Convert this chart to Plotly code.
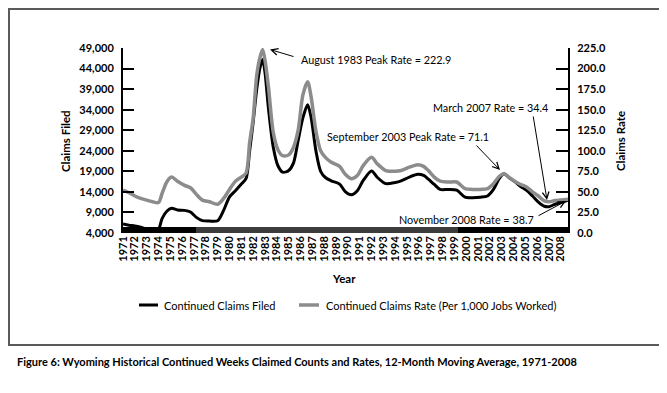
import plotly.graph_objects as go

# ---------------- data ----------------
years = [1971.0, 1971.5, 1972.0, 1972.5, 1973.0, 1973.5, 1974.0, 1974.3, 1974.7,
         1975.1, 1975.6, 1976.2, 1976.7, 1977.2, 1977.7, 1978.3, 1979.0, 1979.5,
         1980.0, 1980.5, 1981.0, 1981.4, 1981.7, 1982.0, 1982.3, 1982.6, 1982.8,
         1983.0, 1983.3, 1983.7, 1984.1, 1984.5, 1985.0, 1985.4, 1985.8, 1986.2,
         1986.6, 1986.9, 1987.3, 1987.7, 1988.1, 1988.6, 1989.3, 1989.8, 1990.3,
         1990.8, 1991.3, 1992.0, 1992.5, 1993.2, 1994.0, 1994.5, 1995.2, 1995.9,
         1996.4, 1996.8, 1997.3, 1997.8, 1998.5, 1999.2, 1999.9, 2000.5, 2001.2,
         2001.8, 2002.3, 2002.8, 2003.2, 2003.6, 2004.1, 2004.6, 2005.1, 2005.6,
         2006.1, 2006.6, 2007.0, 2007.5, 2008.0, 2008.6]

claims_filed = [6200, 5900, 5700, 5400, 5000, 5000, 5000, 7500, 9300,
                10000, 9600, 9500, 9100, 7800, 7000, 6900, 7000, 9500,
                12800, 14300, 15900, 17300, 24000, 31000, 39000, 44500, 46200,
                43000, 34000, 24800, 20300, 18800, 19200, 21000, 26500, 32000,
                35200, 32000, 24000, 19000, 17500, 16700, 15900, 14000, 13300,
                14300, 16800, 19100, 17500, 16000, 16300, 16700, 17600, 18300,
                18000, 17100, 15800, 14600, 14600, 14400, 12700, 12600, 12700,
                13000, 14600, 17300, 18400, 17500, 16500, 15300, 14400, 13000,
                11500, 10500, 10400, 11000, 11400, 12000]

claims_rate = [52, 49, 45, 42, 40, 38, 37, 48, 62,
               68, 63, 58, 55, 47, 40, 38, 35, 42,
               53, 63, 68, 73, 110, 140, 192, 215, 223,
               210, 176, 122, 101, 94, 95, 104, 125, 168,
               184, 165, 124, 100, 92, 86, 81, 71, 66,
               70, 82, 92, 84, 76, 75, 76, 80, 83,
               81, 76, 68, 63, 62, 62, 54, 53, 53,
               54, 60, 69, 72, 68, 63, 59, 56, 50,
               45, 39, 38, 39.5, 40, 41]

tick_years = list(range(1971, 2009))
claims_ticks = list(range(4000, 49001, 5000))
rate_ticks = [0, 25, 50, 75, 100, 125, 150, 175, 200, 225]

series_names = ["Continued Claims Filed", "Continued Claims Rate (Per 1,000 Jobs Worked)"]
caption = ("Figure 6: Wyoming Historical Continued Weeks Claimed Counts and Rates, "
           "12-Month Moving Average, 1971-2008")

# ---------------- layout helpers ----------------
W, H = 667, 393
L, R, T, B = 115, 107, 40, 168
PW, PH = W - L - R, H - T - B
X0, X1 = 1971, 2008.6
C0, C1 = 4000, 49000


def px(x):
    return (x - L) / PW


def py(y):
    return (T + PH - y) / PH


def yr(x):
    return X0 + (x - L) / PW * (X1 - X0)


def cl(y):
    return C0 + (T + PH - y) / PH * (C1 - C0)


FONT = "Lato"
BLACK = "#000000"
GREY = "#8c8c8c"


def f(size=12, bold=False):
    return dict(family=FONT, size=size, color=BLACK,
                weight="bold" if bold else "normal")


fig = go.Figure()
fig.add_trace(go.Scatter(x=years, y=claims_filed, mode="lines", name=series_names[0],
                         line=dict(color=BLACK, width=3, shape="spline", smoothing=0.8),
                         showlegend=False))
fig.add_trace(go.Scatter(x=years, y=claims_rate, mode="lines", name=series_names[1],
                         yaxis="y2",
                         line=dict(color=GREY, width=3.5, shape="spline", smoothing=0.8),
                         showlegend=False))

axis_common = dict(showgrid=False, zeroline=False, ticks="inside", tickwidth=2,
                   tickcolor=BLACK, showline=True, linewidth=2, linecolor=BLACK,
                   tickfont=f(11, True))

fig.update_layout(
    width=W, height=H,
    margin=dict(l=L, r=R, t=T, b=B, pad=0),
    paper_bgcolor="white", plot_bgcolor="white",
    font=f(12),
    xaxis=dict(range=[X0, X1], tickvals=tick_years, ticktext=[str(y) for y in tick_years],
               tickangle=-90, showgrid=False, zeroline=False, showline=False, ticks="",
               tickfont=f(11, True)),
    yaxis=dict(range=[C0, C1], tickvals=claims_ticks, tickformat=",d", ticklen=11,
               ticklabelstandoff=5, **axis_common),
    yaxis2=dict(range=[0, 225], tickvals=rate_ticks, tickformat=".1f", ticklen=12,
                overlaying="y", side="right", ticklabelstandoff=5, **axis_common),
)

shapes = []
# thick baseline bar
bar_segments = [(1971, yr(188), "#000000"), (yr(188), yr(450), "#3c3c3c"), (yr(450), X1, "#000000")]
for a, b, c in bar_segments:
    shapes.append(dict(type="rect", xref="x", yref="paper", x0=a, x1=b,
                       y0=py(225), y1=py(219), fillcolor=c, line=dict(width=0), layer="above"))
# outer border
shapes.append(dict(type="rect", xref="paper", yref="paper", x0=px(1), x1=px(665),
                   y0=py(337), y1=py(1), line=dict(color="#5a5a5a", width=2),
                   fillcolor="rgba(0,0,0,0)"))
# legend samples
shapes.append(dict(type="line", xref="paper", yref="paper", x0=px(131), x1=px(150),
                   y0=py(297), y1=py(297), line=dict(color=BLACK, width=3)))
shapes.append(dict(type="line", xref="paper", yref="paper", x0=px(291), x1=px(311),
                   y0=py(297), y1=py(297), line=dict(color=GREY, width=3.5)))
fig.update_layout(shapes=shapes)


def text_ann(text, x, y, font, xanchor="center", textangle=0, ref="paper"):
    if ref == "paper":
        return dict(text=text, xref="paper", yref="paper", x=px(x), y=py(y),
                    xanchor=xanchor, yanchor="middle", textangle=textangle,
                    showarrow=False, font=font, borderpad=0)
    return dict(text=text, xref="x", yref="y", x=yr(x), y=cl(y),
                xanchor=xanchor, yanchor="middle", textangle=textangle,
                showarrow=False, font=font, borderpad=0)


ann = []
# axis titles
ann.append(text_ann("Claims Filed", 57, 133, f(11.5, True), textangle=-90))
ann.append(text_ann("Claims Rate", 612, 133, f(11.5, True), textangle=-90))
ann.append(text_ann("Year", 336, 270, f(11.5, True)))
# legend text
ann.append(text_ann(series_names[0], 155, 297, f(11), xanchor="left"))
ann.append(text_ann(series_names[1], 317, 297, f(11), xanchor="left"))
# caption
ann.append(text_ann(caption, 8, 353, f(11, True), xanchor="left"))

# callout texts
CF = f(10.8)
ann.append(text_ann("August 1983 Peak Rate = 222.9", 292, 51, CF, xanchor="left", ref="data"))
ann.append(text_ann("September 2003 Peak Rate = 71.1", 318, 128, CF, xanchor="left", ref="data"))
ann.append(text_ann("March 2007 Rate = 34.4", 541, 99, CF, xanchor="right", ref="data"))
ann.append(text_ann("November 2008 Rate = 38.7", 527, 211, CF, xanchor="right", ref="data"))

# callout arrows (tail -> head)
arrows = [((287, 49), (262, 41.5)),
          ((467, 136), (492, 162)),
          ((525, 107), (539, 192)),
          ((529, 208.5), (558, 193))]
for (tx, ty), (hx, hy) in arrows:
    ann.append(dict(text="", xref="x", yref="y", x=yr(hx), y=cl(hy),
                    axref="x", ayref="y", ax=yr(tx), ay=cl(ty), showarrow=True,
                    arrowhead=5, arrowsize=1.3, arrowwidth=1, arrowcolor=BLACK,
                    standoff=0, startstandoff=0))
fig.update_layout(annotations=ann)

fig.write_html("out.html")
